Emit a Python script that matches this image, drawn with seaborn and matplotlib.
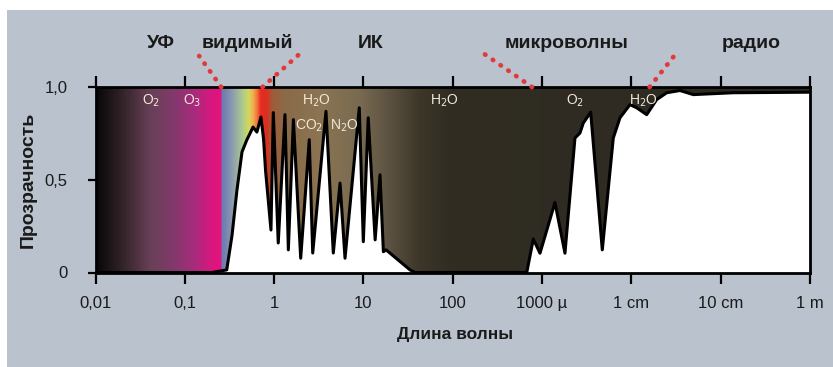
import numpy as np
import pandas as pd
import matplotlib
matplotlib.use("Agg")
import matplotlib.pyplot as plt
import seaborn as sns
from matplotlib.colors import LinearSegmentedColormap
from matplotlib.patches import Rectangle

# wavelength in micrometres, atmospheric transparency 0..1
wavelength = [0.01, 0.2, 0.294, 0.337, 0.383, 0.436, 0.493, 0.58, 0.64, 0.71, 0.76, 0.8, 0.92,
              0.977, 1.11, 1.32, 1.44, 1.64, 1.98, 2.47, 2.70, 3.80, 4.59, 5.46, 6.21,
              8.97, 9.95, 11.3, 13.5, 15.3, 16.7, 17.9, 33.2, 37.7,
              673, 797, 947, 1393, 1803, 2333, 2655, 2893, 3500, 4721,
              6266, 7447, 9640, 11460, 14830, 19190, 24840, 35000, 49320, 137400, 1e6]
transparency = [0.0, 0.0, 0.014, 0.20, 0.445, 0.65, 0.714, 0.784, 0.757, 0.838, 0.72, 0.55, 0.229,
                0.862, 0.159, 0.851, 0.122, 0.824, 0.077, 0.716, 0.105, 0.869, 0.105, 0.482, 0.077,
                0.888, 0.166, 0.834, 0.176, 0.527, 0.112, 0.122, 0.014, 0.0,
                0.0, 0.18, 0.104, 0.377, 0.104, 0.725, 0.752, 0.806, 0.864, 0.122,
                0.725, 0.834, 0.905, 0.888, 0.851, 0.932, 0.969, 0.981, 0.959, 0.969, 0.972]

tick_pos = [1e-2, 1e-1, 1, 10, 100, 1e3, 1e4, 1e5, 1e6]
tick_labels = ["0,01", "0,1", "1", "10", "100", "1000 \u00b5", "1 cm", "10 cm", "1 m"]

band_names = ["УФ", "видимый", "ИК", "микроволны", "радио"]
band_label_pos = [0.054, 0.495, 12.1, 1900, 218000]
band_edges = [0.255, 0.74, 770, 16000]
edge_offsets = [(-22, 31), (37, 33), (-49, 34), (26, 33)]

molecules = ["O$_2$", "O$_3$", "H$_2$O", "CO$_2$", "N$_2$O", "H$_2$O", "O$_2$", "H$_2$O"]
mol_x = [0.0417, 0.120, 2.94, 2.45, 6.05, 79.7, 2335, 13490]
mol_y = [0.925, 0.925, 0.925, 0.79, 0.79, 0.925, 0.925, 0.925]

# colour of the opaque band along log10(wavelength)
grad_stops = [(-2.0, "#060606"), (-1.73, "#2e2024"), (-1.39, "#674056"), (-1.11, "#84386c"),
              (-0.89, "#a82a7c"), (-0.72, "#d4187e"), (-0.597, "#e8107c"), (-0.590, "#6a76b0"),
              (-0.47, "#8c9cb0"), (-0.36, "#a8c890"), (-0.29, "#d0d860"), (-0.24, "#f0b050"),
              (-0.19, "#f07038"), (-0.15, "#e82a22"), (-0.08, "#d83020"), (-0.025, "#a05a38"),
              (0.12, "#8a6a48"), (0.51, "#8a7452"), (0.96, "#786a50"), (1.3, "#5a5040"),
              (1.63, "#3c3628"), (1.97, "#302c22"), (6.0, "#2d2a22")]

sns.set_theme(style="ticks")
plt.rcParams["font.family"] = ["Liberation Sans", "DejaVu Sans"]

fig = plt.figure(figsize=(8.33, 3.67), dpi=100)
fig.patch.set_facecolor("white")
fig.add_artist(Rectangle((7 / 833, 0), 1, 1 - 10 / 367, transform=fig.transFigure,
                         facecolor="#bac2cd", edgecolor="none", zorder=0))

ax = fig.add_axes([95.6 / 833, 94.5 / 367, 714.4 / 833, 185.5 / 367])
ax.set_xscale("log")

cmap = LinearSegmentedColormap.from_list(
    "spec", [((v + 2) / 8, c) for v, c in grad_stops], N=1024)
edges = np.logspace(-2, 6, 1601)
centers = np.log10(np.sqrt(edges[:-1] * edges[1:]))
ax.pcolormesh(edges, [0, 1], centers[None, :], cmap=cmap, vmin=-2, vmax=6,
              shading="flat", antialiased=False, zorder=1, rasterized=True)

df = pd.DataFrame({"wl": wavelength, "tr": transparency})
ax.fill_between(df["wl"], 0, df["tr"], color="white", lw=0, zorder=2)
sns.lineplot(data=df, x="wl", y="tr", color="black", lw=2.2, estimator=None,
             sort=False, ax=ax, zorder=3)

ax.set_xlim(1e-2, 1e6)
ax.set_ylim(0, 1)
ax.set_xticks(tick_pos)
ax.set_xticklabels(tick_labels, fontsize=12, color="#1a1a1a")
ax.minorticks_off()
ax.set_yticks([0, 0.5, 1])
ax.set_yticklabels(["0", "0,5", "1,0"], fontsize=12, color="#1a1a1a")
ax.set_xlabel("")
ax.set_ylabel("")
ax.tick_params(axis="x", which="both", direction="out", length=8, width=1.6,
               top=True, bottom=True, labeltop=False, pad=9, color="black")
ax.tick_params(axis="y", direction="out", length=6, width=1.6, pad=14, color="black")
for s in ax.spines.values():
    s.set_color("black")
    s.set_linewidth(2)
    s.set_zorder(4)

for txt, x, y in zip(molecules, mol_x, mol_y):
    ax.text(x, y, txt, color="#f2e9d8", fontsize=10, ha="center", va="center", zorder=5)

for txt, x in zip(band_names, band_label_pos):
    ax.text(x, 1.235, txt, fontsize=14, fontweight="bold", color="#1a1a1a",
            ha="center", va="center", clip_on=False)

for e, (dx, dy) in zip(band_edges, edge_offsets):
    fx = (np.log10(e) + 2) / 8
    ax.plot([fx, fx + dx / 714.4], [1.0, 1.0 + dy / 185.5], transform=ax.transAxes,
            color="#e23a3a", lw=3.4, linestyle=(0, (0.1, 1.9)),
            dash_capstyle="round", clip_on=False, zorder=6)

fig.text(455 / 833, 1 - 334 / 367, "Длина волны", fontsize=12.5, fontweight="bold",
         color="#1a1a1a", ha="center", va="center")
fig.text(28 / 833, 1 - 180 / 367, "Прозрачность", fontsize=14, fontweight="bold",
         color="#1a1a1a", ha="center", va="center", rotation=90)

fig.savefig("out.png", dpi=100)
